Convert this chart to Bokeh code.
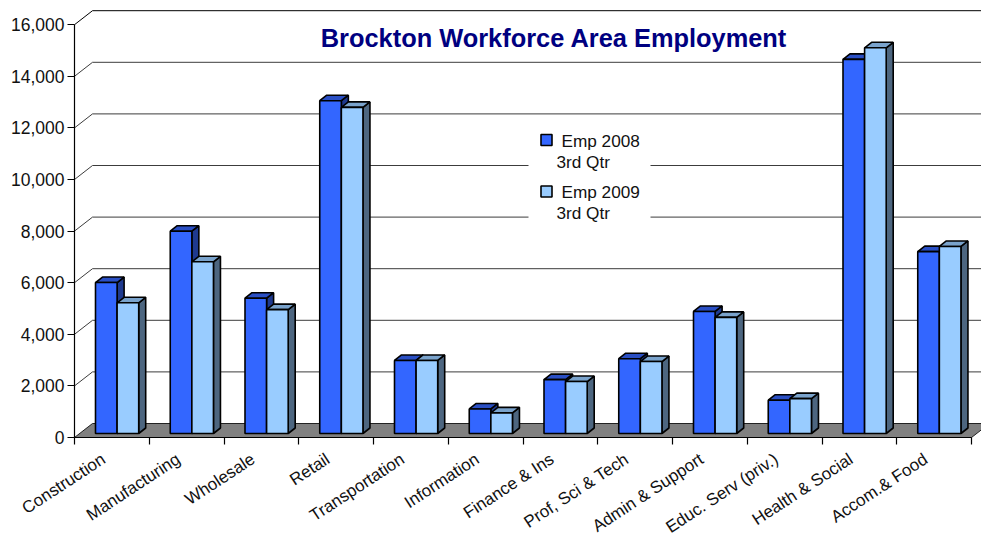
from bokeh.plotting import figure
from bokeh.models import FixedTicker, NumeralTickFormatter, Range1d
from bokeh.core.properties import value
from bokeh.embed import file_html
from bokeh.resources import INLINE

categories = ["Construction", "Manufacturing", "Wholesale", "Retail", "Transportation", "Information",
              "Finance & Ins", "Prof, Sci & Tech", "Admin & Support", "Educ. Serv (priv.)", "Health & Social",
              "Accom.& Food"]
emp_2008 = [5850, 7840, 5245, 12900, 2830, 950, 2090, 2900, 4730, 1290, 14500, 7050]
emp_2009 = [5065, 6655, 4800, 12640, 2830, 800, 2015, 2790, 4500, 1350, 14950, 7250]
y_ticks = [0, 2000, 4000, 6000, 8000, 10000, 12000, 14000, 16000]
title = "Brockton Workforce Area Employment"
legend_rows = [("Emp 2008", "3rd Qtr"), ("Emp 2009", "3rd Qtr")]

# pixel scale of the reference
UX = 74.75
UY = 51.6 / 2000
def dX(px): return px / UX
def dY(px): return px / UY
def X(px): return (px - 74) / UX
def Y(py): return (437 - py) / UY

FONT = "Liberation Sans"
p = figure(width=981, height=537, output_backend="svg", toolbar_location=None,
           x_range=Range1d(X(0), X(981)), y_range=Range1d(Y(537), Y(0)),
           min_border_left=0, min_border_right=0, min_border_top=0, min_border_bottom=0)
p.outline_line_color = None
p.grid.visible = False
p.background_fill_color = "white"

# axes
ya = p.yaxis[0]
ya.fixed_location = 0
ya.ticker = FixedTicker(ticks=y_ticks)
ya.formatter = NumeralTickFormatter(format="0,0")
ya.major_tick_out = 7
ya.major_tick_in = 0
ya.minor_tick_out = 0
ya.minor_tick_in = 0
ya.major_label_text_font = FONT
ya.major_label_text_font_size = "17.5px"
ya.major_label_text_color = "#111111"
ya.major_label_standoff = 3
ya.axis_line_color = "black"
ya.axis_line_width = 1.2
ya.major_tick_line_width = 1.2
ya.bounds = (0, 16000)

xa = p.xaxis[0]
n = len(categories)
label_at = [i + 0.39 for i in range(n)]
xa.fixed_location = 0
xa.ticker = FixedTicker(ticks=label_at, minor_ticks=list(range(n + 1)))
xa.major_label_overrides = {t: c for t, c in zip(label_at, categories)}
xa.major_tick_out = 0
xa.major_tick_in = 0
xa.minor_tick_out = 7
xa.minor_tick_in = 0
xa.minor_tick_line_color = "black"
xa.minor_tick_line_width = 1.2
xa.axis_line_color = "black"
xa.axis_line_width = 1.2
xa.bounds = (0, n)
xa.major_label_orientation = 0.58
xa.major_label_text_font = FONT
xa.major_label_text_font_size = "17px"
xa.major_label_text_color = "#111111"
xa.major_label_standoff = 13

WX, WY = dX(18), dY(14)
# floor
p.patch([0, WX, n + WX, n], [0, WY, WY, 0], fill_color="#808080", line_color="#222222", line_width=1)
# gridlines (wall and left diagonal)
for t in y_ticks[1:]:
    col = "black" if t == 16000 else "#3c3c3c"
    p.line([0, WX, n + WX], [t, t + WY, t + WY], line_color=col, line_width=1)

# legend backing
p.quad(left=X(528), right=X(650), top=Y(128), bottom=Y(224), fill_color="white", line_color=None)

BW = dX(21.6)
SX, SY = dX(7), dY(5.5)
BX, BY = dX(21), dY(4)
LW = 1.6
series = [(emp_2008, 0, "#3366FF", "#2A4FC4", "#1F3A8F"),
          (emp_2009, 1, "#99CCFF", "#7AA3CC", "#4D6680")]
for i in range(n):
    for vals, k, front, top, side in series:
        v = vals[i]
        l = i + BX + k * BW
        r = l + BW
        b = BY
        t = b + v
        p.patch([r, r + SX, r + SX, r], [b, b + SY, t + SY, t], fill_color=side, line_color="black", line_width=LW)
        p.patch([l, l + SX, r + SX, r], [t, t + SY, t + SY, t], fill_color=top, line_color="black", line_width=LW)
        p.quad(left=l, right=r, bottom=b, top=t, fill_color=front, line_color="black", line_width=LW)

# title
p.text(x=[X(553.5)], y=[Y(37.5)], text=[title], text_font=value(FONT), text_font_style="bold",
       text_font_size="25.4px", text_color="#000080", text_align="center", text_baseline="middle")

# legend
for k, (row, s) in enumerate(zip(legend_rows, series)):
    y0 = 139.5 + k * 51.5
    p.quad(left=X(540.5), right=X(551.5), top=Y(y0 - 5.5), bottom=Y(y0 + 5.5), fill_color=s[2], line_color="black", line_width=LW)
    p.text(x=[X(561)], y=[Y(y0 + 0.5)], text=[row[0]], text_font=value(FONT), text_font_size="17.2px",
           text_color="#111111", text_align="left", text_baseline="middle")
    p.text(x=[X(556)], y=[Y(y0 + 21.5)], text=[row[1]], text_font=value(FONT), text_font_size="17.2px",
           text_color="#111111", text_align="left", text_baseline="middle")

open("out.html", "w").write(file_html(p, INLINE))
